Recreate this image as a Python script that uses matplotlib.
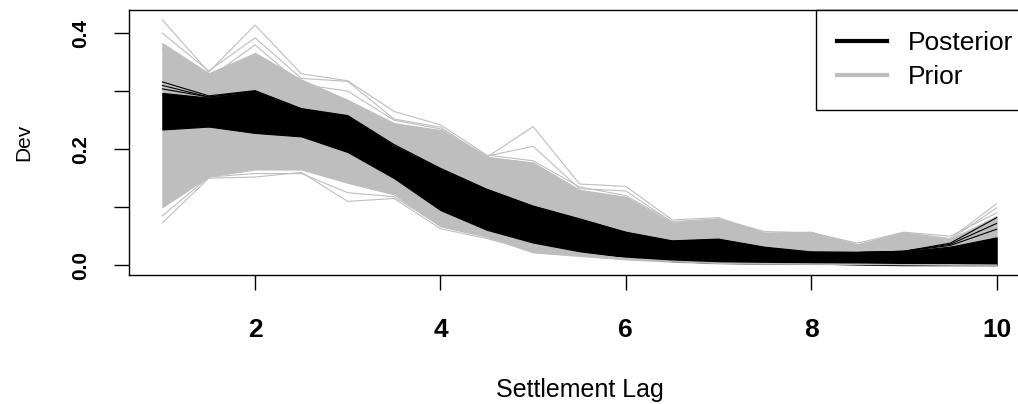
import matplotlib
matplotlib.use("Agg")
import matplotlib.pyplot as plt
import numpy as np

# settlement lags (half-step grid)
lag = [1, 1.5, 2, 2.5, 3, 3.5, 4, 4.5, 5, 5.5, 6, 6.5, 7, 7.5, 8, 8.5, 9, 9.5, 10]

# prior: envelope of the dense bundle
prior_lo = [0.100, 0.153, 0.165, 0.165, 0.142, 0.122, 0.067, 0.049, 0.022, 0.016,
            0.010, 0.006, 0.003, 0.002, 0.002, 0.002, 0.001, 0.001, 0.000]
prior_hi = [0.383, 0.331, 0.366, 0.320, 0.285, 0.245, 0.233, 0.187, 0.177, 0.130,
            0.118, 0.073, 0.080, 0.056, 0.056, 0.036, 0.056, 0.045, 0.085]

# prior: stray draws outside the bundle
prior_lines = [
    [0.423, 0.333, 0.414, 0.330, 0.318, 0.265, 0.242, 0.190, 0.180, 0.135,
     0.120, 0.075, 0.080, 0.058, 0.056, 0.038, 0.057, 0.050, 0.090],
    [0.400, 0.335, 0.392, 0.322, 0.317, 0.252, 0.238, 0.186, 0.239, 0.140,
     0.136, 0.078, 0.082, 0.055, 0.057, 0.035, 0.056, 0.046, 0.106],
    [0.372, 0.322, 0.380, 0.312, 0.300, 0.250, 0.235, 0.188, 0.205, 0.132,
     0.128, 0.074, 0.078, 0.052, 0.055, 0.034, 0.055, 0.044, 0.099],
    [0.073, 0.150, 0.152, 0.160, 0.110, 0.115, 0.063, 0.046, 0.025, 0.018,
     0.012, 0.007, 0.004, 0.003, 0.002, 0.002, 0.001, 0.001, 0.000],
    [0.085, 0.152, 0.158, 0.158, 0.125, 0.118, 0.068, 0.050, 0.028, 0.020,
     0.011, 0.006, 0.003, 0.002, 0.002, 0.001, 0.001, 0.000, 0.000],
]

# posterior: envelope of the dense bundle
post_lo = [0.234, 0.239, 0.228, 0.222, 0.195, 0.150, 0.095, 0.061, 0.039, 0.024,
           0.014, 0.007, 0.004, 0.003, 0.003, 0.001, 0.000, 0.000, 0.000]
post_hi = [0.297, 0.289, 0.299, 0.268, 0.256, 0.205, 0.165, 0.130, 0.101, 0.079,
           0.056, 0.041, 0.044, 0.030, 0.022, 0.022, 0.024, 0.032, 0.048]

# posterior: stray draws
post_lines = [
    [0.316, 0.292, 0.301, 0.270, 0.258, 0.208, 0.167, 0.131, 0.102, 0.080,
     0.057, 0.042, 0.045, 0.031, 0.023, 0.022, 0.024, 0.038, 0.082],
    [0.310, 0.290, 0.300, 0.269, 0.257, 0.206, 0.166, 0.130, 0.101, 0.079,
     0.056, 0.041, 0.044, 0.030, 0.022, 0.022, 0.024, 0.036, 0.072],
    [0.304, 0.290, 0.299, 0.268, 0.256, 0.205, 0.165, 0.130, 0.101, 0.079,
     0.056, 0.041, 0.044, 0.030, 0.022, 0.022, 0.024, 0.034, 0.062],
]

GREY = "#bebebe"

plt.rcParams['font.family'] = ['Liberation Sans', 'DejaVu Sans']

fig = plt.figure(figsize=(10.18, 4.04), dpi=100)
ax = fig.add_axes([129/1018, 129/404, 901/1018, 265/404])

ax.fill_between(lag, prior_lo, prior_hi, color=GREY, lw=0.8)
for r in prior_lines:
    ax.plot(lag, r, color=GREY, lw=0.8)
ax.fill_between(lag, post_lo, post_hi, color="black", lw=0.8)
for r in post_lines:
    ax.plot(lag, r, color="black", lw=0.8)

ax.plot([], [], color="black", lw=3, label="Posterior")
ax.plot([], [], color=GREY, lw=3, label="Prior")

ax.set_xlim(0.64, 10.36)
ax.set_ylim(-0.0169, 0.44)
ax.set_xticks([2, 4, 6, 8, 10])
ax.set_yticks([0.0, 0.1, 0.2, 0.3, 0.4])
ax.set_yticklabels(["0.0", "", "0.2", "", "0.4"], rotation=90, va="center")
for lab in ax.get_xticklabels():
    lab.set_fontweight("bold")
    lab.set_fontsize(19)
for lab in ax.get_yticklabels():
    lab.set_fontweight("bold")
    lab.set_fontsize(15)
ax.tick_params(axis="both", direction="out", length=11, width=1)
ax.tick_params(axis="x", pad=20)
ax.tick_params(axis="y", pad=17)
for s in ax.spines.values():
    s.set_linewidth(1)

ax.set_xlabel("Settlement Lag", fontsize=18)
ax.xaxis.set_label_coords(0.5, -(390 - 275) / 265)
ax.xaxis.label.set_verticalalignment("center")
ax.set_ylabel("Dev", fontsize=15)
ax.yaxis.set_label_coords(-(129 - 24) / 901, 0.5)
ax.yaxis.label.set_verticalalignment("center")

leg = ax.legend(loc="upper right", bbox_to_anchor=(1.0044, 1.0), borderaxespad=0,
                fancybox=False, framealpha=1, edgecolor="black", prop={'size': 19},
                handlelength=1.9, handletextpad=0.76, labelspacing=0.38,
                borderpad=0.8)
leg.get_frame().set_linewidth(1)

fig.savefig("out.png", dpi=100)
